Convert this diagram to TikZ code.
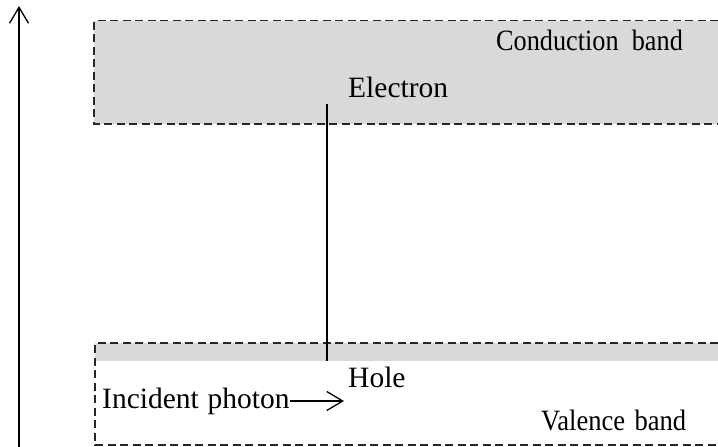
\documentclass[tikz,border=0pt]{standalone}
\usepackage{graphicx}
\usepackage{fontspec}
\setmainfont{Liberation Serif}
\usetikzlibrary{arrows.meta}
\definecolor{bandgray}{HTML}{D9D9D9}
\tikzset{
  bandedge/.style={draw=black!85, line width=1.3pt, dash pattern=on 8pt off 4.5pt},
  lbl/.style={anchor=base west, inner sep=0pt, font=\fontsize{29.5}{31}\selectfont},
  conn/.style={draw=black, line width=1.2pt},
  openarrow/.style={-{Straight Barb[length=16pt,width=19pt,line width=1.3pt]}}
}
\begin{document}
\begin{tikzpicture}[x=1pt,y=-1pt]
\useasboundingbox (0,0) rectangle (718,447);
% conduction band
\fill[bandgray] (94,20.7) rectangle (718,124);
\draw[bandedge] (718,20.7) -- (94,20.7) -- (94,124) -- (718,124);
% valence band
\fill[bandgray] (95,343) rectangle (718,361);
\draw[bandedge] (718,343) -- (95,343) -- (95,445) -- (718,445);
% energy axis
\coordinate (axbot) at (19,447);
\coordinate (axtop) at (19,6);
\draw[conn, openarrow] (axbot) -- (axtop);
% transition line
\coordinate (etop) at (327,104);
\coordinate (hbot) at (327,361);
\draw[conn] (etop) -- (hbot);
% labels
\node[lbl] (cb) at (496,50) {\scalebox{0.89}[1]{Conduction\hspace{0.5em}band}};
\node[lbl] (el) at (348,97) {Electron};
\node[lbl] (hole) at (348,387) {Hole};
\node[lbl] (ph) at (102,408) {Incident\hspace{0.05em} photon};
\node[lbl] (vb) at (541,430) {\scalebox{0.9}[1]{Valence\hspace{0.1em} band}};
\coordinate (phend) at (344,401);
\draw[conn, openarrow] (ph.east |- phend) -- (phend);
\end{tikzpicture}
\end{document}
